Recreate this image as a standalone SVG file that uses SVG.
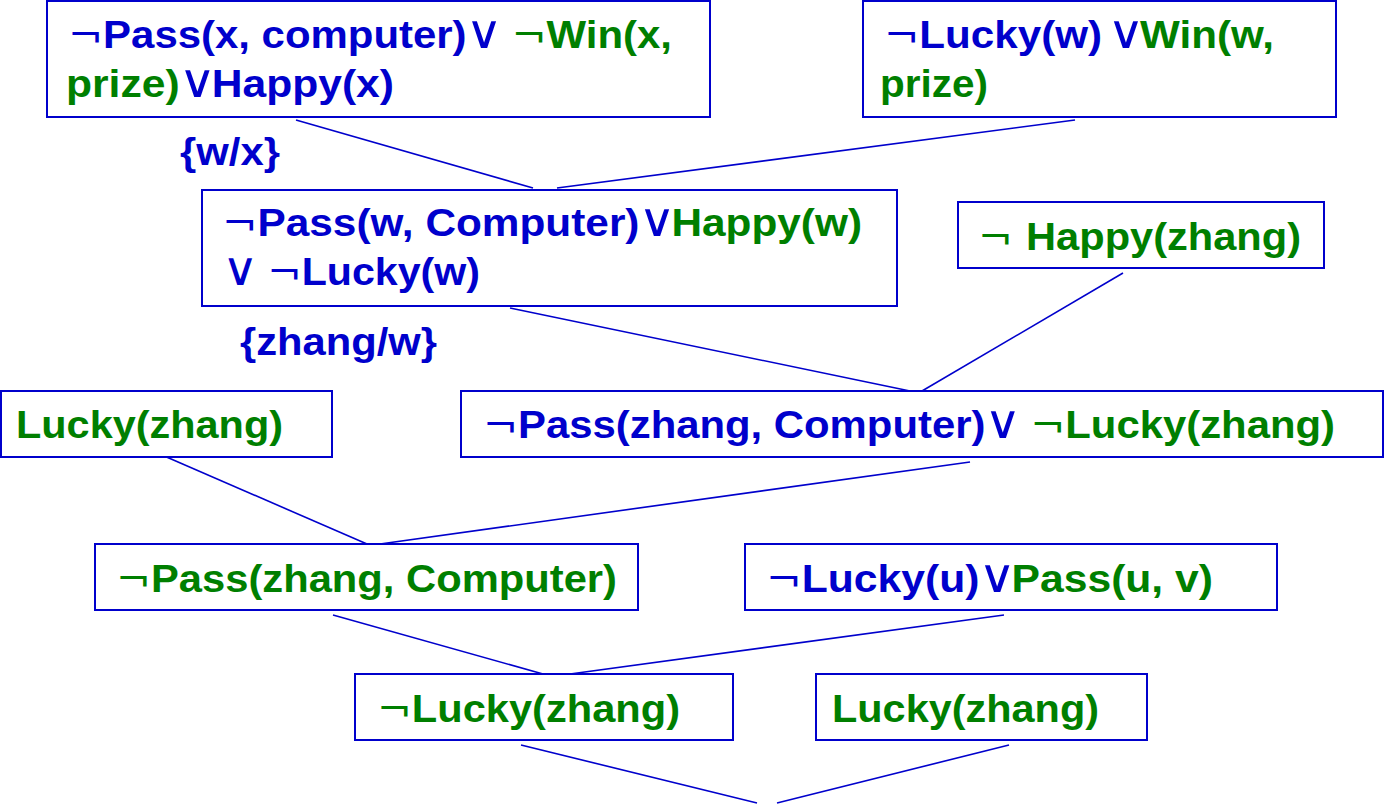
<svg xmlns="http://www.w3.org/2000/svg" width="1384" height="806" viewBox="0 0 1384 806">
<style>
.box{fill:#fff;stroke:#0000CC;stroke-width:2}
.conn line{stroke:#0000CC;stroke-width:1.6}
text{font-family:"Liberation Sans",Arial,sans-serif;font-weight:bold;font-size:38px}
.b{fill:#0000CC}
.g{fill:#007F00}
.s{font-family:"DejaVu Sans",sans-serif;font-weight:normal}
.v{font-family:"DejaVu Sans",sans-serif;font-weight:normal;font-size:46px}
</style>
<rect width="1384" height="806" fill="#fff"/>
<g id="connectors" class="conn">
<line x1="296" y1="120" x2="533" y2="188"/>
<line x1="1075" y1="120" x2="557" y2="188"/>
<line x1="510" y1="308" x2="910" y2="391"/>
<line x1="1123" y1="273" x2="922" y2="391"/>
<line x1="155" y1="452" x2="367" y2="544"/>
<line x1="970" y1="462" x2="380" y2="544"/>
<line x1="333" y1="615" x2="543" y2="674"/>
<line x1="1004" y1="615" x2="570" y2="674"/>
<line x1="521" y1="745" x2="757" y2="803"/>
<line x1="777" y1="803" x2="1009" y2="745"/>
</g>
<g id="n1">
<rect class="box" x="47" y="1" width="663" height="116"/>
<text x="68" y="48" textLength="604" lengthAdjust="spacingAndGlyphs"><tspan class="b s">¬</tspan><tspan class="b">Pass(x, computer)</tspan><tspan class="b v" dx="-1">∨</tspan><tspan class="g s" dx="-4"> ¬</tspan><tspan class="g">Win(x,</tspan></text>
<text x="66" y="97" textLength="328" lengthAdjust="spacingAndGlyphs"><tspan class="g">prize)</tspan><tspan class="b v" dx="-1">∨</tspan><tspan class="b" dx="-4">Happy(x)</tspan></text>
</g>
<g id="n2">
<rect class="box" x="863" y="1" width="473" height="116"/>
<text x="884" y="48" textLength="390" lengthAdjust="spacingAndGlyphs"><tspan class="b s">¬</tspan><tspan class="b">Lucky(w) </tspan><tspan class="b v" dx="-6">∨</tspan><tspan class="g" dx="-4">Win(w,</tspan></text>
<text x="880" y="97" textLength="108" lengthAdjust="spacingAndGlyphs"><tspan class="g">prize)</tspan></text>
</g>
<g id="lbl1"><text x="180" y="165" class="b" textLength="100" lengthAdjust="spacingAndGlyphs">{w/x}</text></g>
<g id="n3">
<rect class="box" x="202" y="190" width="695" height="116"/>
<text x="222" y="236" textLength="640" lengthAdjust="spacingAndGlyphs"><tspan class="b s">¬</tspan><tspan class="b">Pass(w, Computer)</tspan><tspan class="b v" dx="-1">∨</tspan><tspan class="g" dx="-4">Happy(w)</tspan></text>
<text x="222" y="285" textLength="258" lengthAdjust="spacingAndGlyphs"><tspan class="b v">∨</tspan><tspan class="b s" dx="-4"> ¬</tspan><tspan class="b">Lucky(w)</tspan></text>
</g>
<g id="n4">
<rect class="box" x="958" y="202" width="366" height="66"/>
<text x="978" y="250" textLength="323" lengthAdjust="spacingAndGlyphs"><tspan class="g s">¬ </tspan><tspan class="g">Happy(zhang)</tspan></text>
</g>
<g id="lbl2"><text x="240" y="355" class="b" textLength="197" lengthAdjust="spacingAndGlyphs">{zhang/w}</text></g>
<g id="n5">
<rect class="box" x="1" y="391" width="331" height="66"/>
<text x="16" y="438" class="g" textLength="267" lengthAdjust="spacingAndGlyphs">Lucky(zhang)</text>
</g>
<g id="n6">
<rect class="box" x="461" y="391" width="922" height="66"/>
<text x="483" y="438" textLength="852" lengthAdjust="spacingAndGlyphs"><tspan class="b s">¬</tspan><tspan class="b">Pass(zhang, Computer)</tspan><tspan class="b v" dx="-1">∨</tspan><tspan class="g s" dx="-4"> ¬</tspan><tspan class="g">Lucky(zhang)</tspan></text>
</g>
<g id="n7">
<rect class="box" x="95" y="544" width="543" height="66"/>
<text x="116" y="592" textLength="501" lengthAdjust="spacingAndGlyphs"><tspan class="g s">¬</tspan><tspan class="g">Pass(zhang, Computer)</tspan></text>
</g>
<g id="n8">
<rect class="box" x="745" y="544" width="532" height="66"/>
<text x="766" y="592" textLength="447" lengthAdjust="spacingAndGlyphs"><tspan class="b s">¬</tspan><tspan class="b">Lucky(u)</tspan><tspan class="b v" dx="-1">∨</tspan><tspan class="g" dx="-4">Pass(u, v)</tspan></text>
</g>
<g id="n9">
<rect class="box" x="355" y="674" width="378" height="66"/>
<text x="377" y="722" textLength="303" lengthAdjust="spacingAndGlyphs"><tspan class="g s">¬</tspan><tspan class="g">Lucky(zhang)</tspan></text>
</g>
<g id="n10">
<rect class="box" x="816" y="674" width="331" height="66"/>
<text x="832" y="722" class="g" textLength="267" lengthAdjust="spacingAndGlyphs">Lucky(zhang)</text>
</g>
</svg>
